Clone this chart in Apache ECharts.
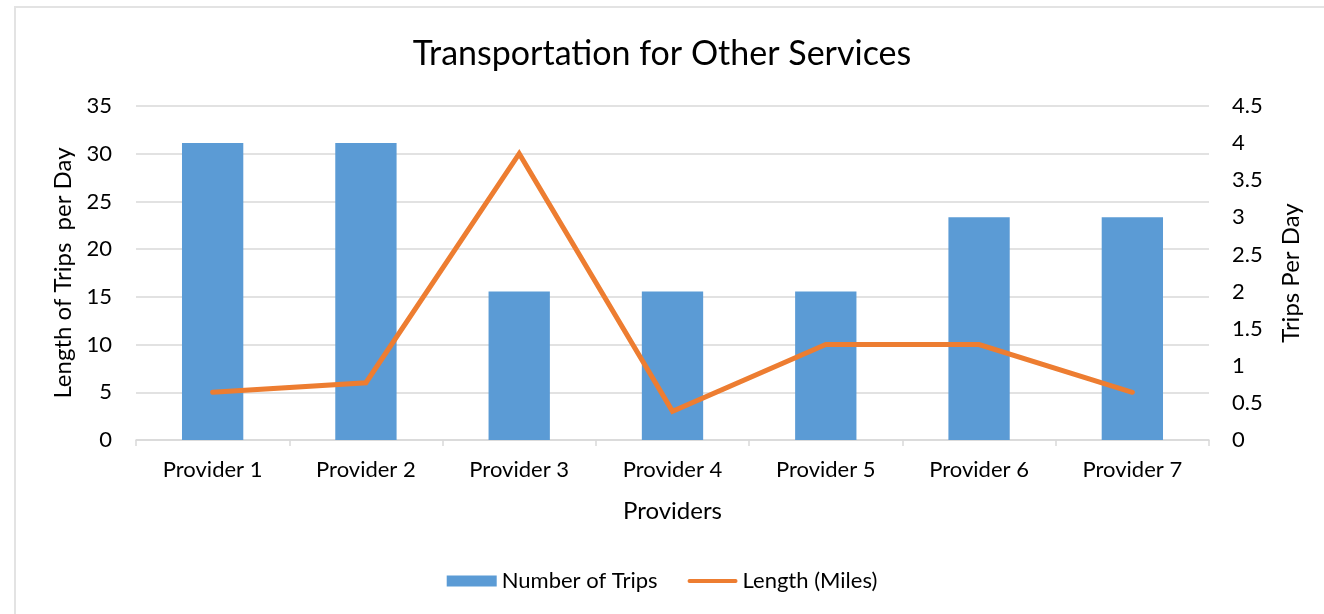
<!DOCTYPE html>
<html>
<head>
<meta charset="utf-8">
<script src="https://cdn.jsdelivr.net/npm/echarts@6/dist/echarts.min.js"></script>
<style>
  html, body { margin: 0; padding: 0; background: #fff; }
  #frame {
    position: absolute; left: 14px; top: 6px; width: 1320px; height: 620px;
    border-left: 2px solid #e3e3e3; border-top: 2px solid #e3e3e3;
  }
  #chart { position: absolute; left: 0; top: 0; width: 1324px; height: 614px; }
</style>
</head>
<body>
<div id="frame"></div>
<div id="chart"></div>
<script>
// 数据
const providers = ['Provider 1', 'Provider 2', 'Provider 3', 'Provider 4', 'Provider 5', 'Provider 6', 'Provider 7'];
const numberOfTrips = [4, 4, 2, 2, 2, 3, 3];      // right axis (Trips Per Day)
const lengthMiles = [5, 6, 30, 3, 10, 10, 5];     // left axis (Length of Trips per Day)
const leftTicks = { min: 0, max: 35, interval: 5 };
const rightTicks = { min: 0, max: 4.5, interval: 0.5 };

const font = 'Lato, "Open Sans", sans-serif';
const chart = echarts.init(document.getElementById('chart'), null, { renderer: 'canvas' });

const option = {
  animation: false,
  textStyle: { fontFamily: font },
  title: {
    text: 'Transportation for Other Services',
    left: 'center',
    top: 32,
    textStyle: { fontFamily: font, fontSize: 34, fontWeight: 'normal', color: '#000' }
  },
  legend: {
    bottom: 17,
    left: 'center',
    itemGap: 30,
    itemWidth: 50,
    itemHeight: 11,
    textStyle: { fontFamily: font, fontSize: 22, color: '#000' },
    data: [
      { name: 'Number of Trips', icon: 'rect' },
      { name: 'Length (Miles)', icon: 'path://M2,0 L48,0 A2,2 0 0 1 48,4 L2,4 A2,2 0 0 1 2,0 Z',
        itemStyle: { color: '#ed7d31' } }
    ]
  },
  grid: { left: 136, right: 115, top: 106, bottom: 174 },
  xAxis: {
    type: 'category',
    data: providers,
    name: 'Providers',
    nameLocation: 'middle',
    nameGap: 59,
    nameTextStyle: { fontFamily: font, fontSize: 24, color: '#000' },
    axisLine: { lineStyle: { color: '#d9d9d9', width: 1.5 } },
    axisTick: { show: true, alignWithLabel: false, length: 6, lineStyle: { color: '#d9d9d9', width: 1.5 } },
    axisLabel: { fontFamily: font, fontSize: 22, color: '#000', margin: 19 }
  },
  yAxis: [
    {
      type: 'value',
      min: leftTicks.min, max: leftTicks.max, interval: leftTicks.interval,
      name: 'Length of Trips  per Day',
      nameLocation: 'middle',
      nameRotate: 90,
      nameGap: 56,
      nameTextStyle: { fontFamily: font, fontSize: 24, color: '#000' },
      axisLine: { show: false },
      axisTick: { show: false },
      axisLabel: { fontFamily: font, fontSize: 22, color: '#000', margin: 24 },
      splitLine: { lineStyle: { color: '#d9d9d9', width: 1.5 } }
    },
    {
      type: 'value',
      min: rightTicks.min, max: rightTicks.max, interval: rightTicks.interval,
      name: 'Trips Per Day',
      nameLocation: 'middle',
      nameRotate: 90,
      nameGap: 70,
      nameTextStyle: { fontFamily: font, fontSize: 24, color: '#000' },
      axisLine: { show: false },
      axisTick: { show: false },
      axisLabel: { fontFamily: font, fontSize: 22, color: '#000', margin: 23 },
      splitLine: { show: false }
    }
  ],
  series: [
    {
      name: 'Number of Trips',
      type: 'bar',
      yAxisIndex: 1,
      data: numberOfTrips,
      barWidth: '40%',
      itemStyle: { color: '#5b9bd5' }
    },
    {
      name: 'Length (Miles)',
      type: 'line',
      yAxisIndex: 0,
      data: lengthMiles,
      symbol: 'none',
      lineStyle: { color: '#ed7d31', width: 5, cap: 'round', join: 'miter' },
      itemStyle: { color: '#ed7d31' }
    }
  ]
};
chart.setOption(option);
</script>
</body>
</html>
